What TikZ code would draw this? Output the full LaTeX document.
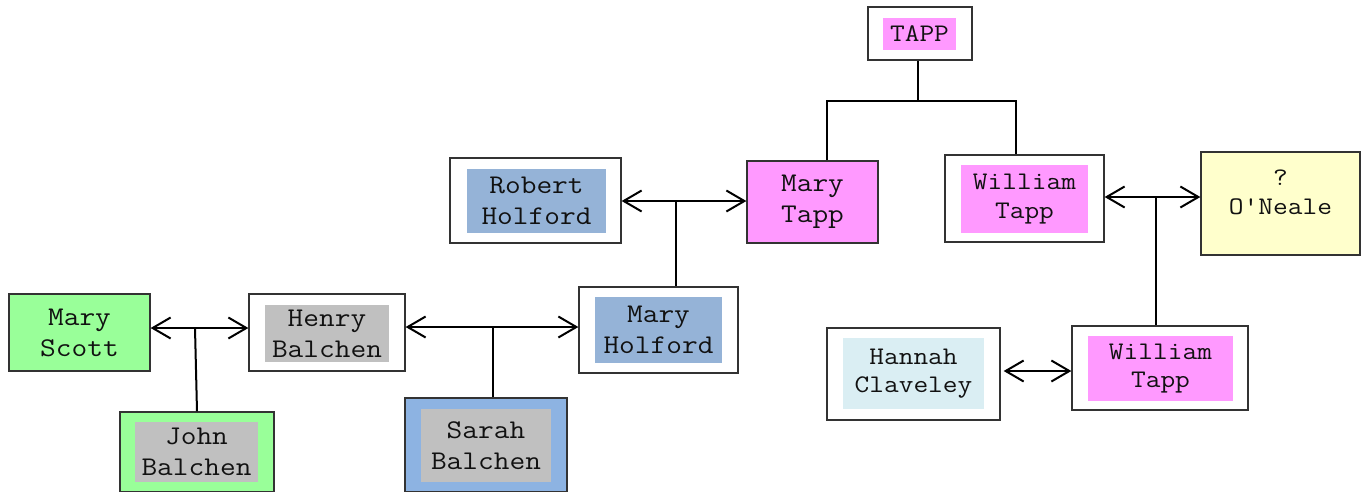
\documentclass[tikz,border=0pt]{standalone}
\usepackage{fontspec}
\setmonofont{Latin Modern Mono}[FakeStretch=1.13]
\usetikzlibrary{arrows.meta}
\definecolor{grn}{HTML}{99FF99}
\definecolor{gry}{HTML}{C0C0C0}
\definecolor{blu}{HTML}{95B3D7}
\definecolor{blu2}{HTML}{8DB3E2}
\definecolor{pnk}{HTML}{FF99FF}
\definecolor{ylw}{HTML}{FFFFCC}
\definecolor{lbl}{HTML}{DAEEF3}
\definecolor{edge}{HTML}{333333}
\definecolor{txt}{HTML}{111111}
\begin{document}
\begin{tikzpicture}[x=1pt,y=-1pt,
  outer/.style={draw=edge, line width=1.3pt, inner sep=0pt, text=txt, align=center},
  inner/.style={inner sep=0pt, align=center, text=txt},
  bigf/.style={font={\ttfamily\fontsize{27}{31}\selectfont}},
  smf/.style={font={\ttfamily\fontsize{25.3}{28.3}\selectfont}},
  link/.style={line width=2pt, black},
  barb/.tip={Straight Barb[length=18pt,width=21pt,line width=2pt]},
  marr/.style={link, barb-barb}]
\useasboundingbox (0,0) rectangle (1363,491);
\clip (0,0) rectangle (1363,491);

% Balchen / Scott
\node[outer, fill=grn, minimum width=141pt, minimum height=77pt, bigf] (ms) at (79.5,332.5) {Mary\\Scott};
\node[outer, fill=white, minimum width=156pt, minimum height=77pt] (hb) at (327,332.5) {};
\node[inner, fill=gry, minimum width=124pt, minimum height=57pt, bigf] (hbi) at (327,333.5) {Henry\\Balchen};
\node[outer, fill=grn, minimum width=154pt, minimum height=80pt] (jb) at (197,452) {};
\node[inner, fill=gry, minimum width=123pt, minimum height=60pt, bigf] (jbi) at (196.5,452) {John\\Balchen};

% Holford
\node[outer, fill=white, minimum width=171pt, minimum height=85pt] (rh) at (535.5,200.5) {};
\node[inner, fill=blu, minimum width=139pt, minimum height=64pt, bigf] (rhi) at (536.5,201) {Robert\\Holford};
\node[outer, fill=pnk, minimum width=131pt, minimum height=82pt, bigf] (mt) at (812.5,202) {Mary\\Tapp};
\node[outer, fill=white, minimum width=159pt, minimum height=86pt] (mh) at (658.5,330) {};
\node[inner, fill=blu, minimum width=127pt, minimum height=66pt, bigf] (mhi) at (658.5,330) {Mary\\Holford};
\node[outer, fill=blu2, minimum width=162pt, minimum height=94pt] (sb) at (486,445) {};
\node[inner, fill=gry, minimum width=130pt, minimum height=73pt, bigf] (sbi) at (486,445.5) {Sarah\\Balchen};

% Tapp
\node[outer, fill=white, minimum width=104pt, minimum height=53pt] (tp) at (920,33.5) {};
\node[inner, fill=pnk, minimum width=73pt, minimum height=32pt, smf] (tpi) at (919.5,34) {TAPP};
\node[outer, fill=white, minimum width=159pt, minimum height=87pt] (wa) at (1024.5,198.5) {};
\node[inner, fill=pnk, minimum width=127pt, minimum height=68pt, smf] (wai) at (1024.5,199) {William\\Tapp};
\node[outer, fill=ylw, minimum width=159pt, minimum height=103pt] (on) at (1280.5,203.5) {};
\node[inner, anchor=north, smf] (oni) at (1280.5,170) {?\\O'Neale};
\node[outer, fill=white, minimum width=173pt, minimum height=92pt] (hc) at (913.5,374) {};
\node[inner, fill=lbl, minimum width=141pt, minimum height=71pt, smf] (hci) at (913.5,373.5) {Hannah\\Claveley};
\node[outer, fill=white, minimum width=176pt, minimum height=84pt] (wb) at (1160,368) {};
\node[inner, fill=pnk, minimum width=145pt, minimum height=65pt, smf] (wbi) at (1160.5,368.5) {William\\Tapp};

% connectors
\coordinate (m1) at (195,328);
\draw[marr] (ms.east |- m1) -- (hb.west |- m1);
\draw[link] (m1) -- (jb.north);
\coordinate (m2) at (493,327);
\draw[marr] (hb.east |- m2) -- (mh.west |- m2);
\draw[link] (m2) -- (m2 |- sb.north);
\coordinate (m3) at (676,201);
\draw[marr] (rh.east |- m3) -- (mt.west |- m3);
\draw[link] (m3) -- (m3 |- mh.north);
\coordinate (tl) at (827,101);
\coordinate (tr) at (1016,101);
\draw[link] (tp.south -| 918,0) -- (918,101);
\draw[link] (mt.north -| tl) -- (tl) -- (tr) -- (tr |- wa.north);
\coordinate (m4) at (1156,197);
\draw[marr] (wa.east |- m4) -- (on.west |- m4);
\draw[link] (m4) -- (m4 |- wb.north);
\coordinate (m5) at (1037,371);
\draw[marr] ([xshift=3pt]hc.east |- m5) -- (wb.west |- m5);
\end{tikzpicture}
\end{document}
